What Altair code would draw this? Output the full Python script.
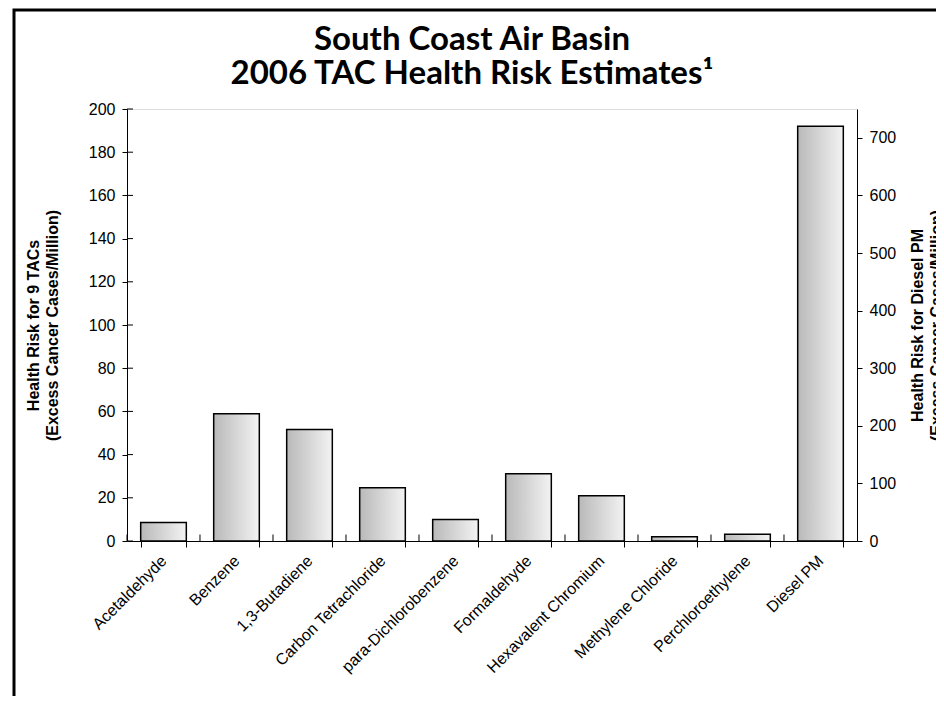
import altair as alt
import pandas as pd

# ---- data ----
tacs = ["Acetaldehyde", "Benzene", "1,3-Butadiene", "Carbon Tetrachloride",
        "para-Dichlorobenzene", "Formaldehyde", "Hexavalent Chromium",
        "Methylene Chloride", "Perchloroethylene"]
tac_risk = [8.6, 58.9, 51.6, 24.6, 10.0, 31.1, 20.9, 2.0, 3.1]
diesel = ["Diesel PM"]
diesel_risk = [720]
categories = tacs + diesel

left_ticks = [0, 20, 40, 60, 80, 100, 120, 140, 160, 180, 200]
right_ticks = [0, 100, 200, 300, 400, 500, 600, 700]
left_domain = [0, 200]
right_domain = [0, 750]

title_lines = ["South Coast Air Basin", "2006 TAC Health Risk Estimates\u00b9"]
left_title = ["Health Risk for 9 TACs", "(Excess Cancer Cases/Million)"]
right_title = ["Health Risk for Diesel PM", "(Excess Cancer Cases/Million)"]

tac_df = pd.DataFrame({"name": tacs, "risk": tac_risk})
dsl_df = pd.DataFrame({"name": diesel, "risk": diesel_risk})
tick_df = pd.DataFrame({"risk": left_ticks})
cat_df = pd.DataFrame({"name": categories})
one_df = pd.DataFrame({"k": [0]})

W, H = 730, 432
FONT = "Liberation Sans"

grad = alt.Gradient(
    gradient="linear",
    stops=[alt.GradientStop(color="#b9b9b9", offset=0),
           alt.GradientStop(color="#f3f3f3", offset=1)],
    x1=0, x2=1, y1=0, y2=0,
)

x_enc = alt.X(
    "name:N", sort=categories,
    scale=alt.Scale(paddingInner=0.375, paddingOuter=0.1875),
    axis=alt.Axis(title=None, labelAngle=315, labelAlign="right",
                  labelBaseline="middle", labelFont=FONT, labelFontSize=16,
                  labelColor="black", labelPadding=11, tickBand="extent",
                  tickSize=6, tickColor="black", domainColor="black"),
)

left_axis = alt.Axis(
    values=left_ticks, title=left_title, titleFont=FONT, titleFontSize=16,
    titleFontWeight="bold", titleColor="black", titleLineHeight=19,
    titleAngle=270, titleBaseline="top", titleAlign="center",
    titleX=-102, titleY=H / 2,
    labelFont=FONT, labelFontSize=16, labelColor="black", labelPadding=7,
    tickSize=5, tickColor="black", domainColor="black", grid=False,
)
y_left = alt.Y("risk:Q", scale=alt.Scale(domain=left_domain), axis=left_axis)

bars_left = alt.Chart(tac_df).mark_bar(
    fill=grad, stroke="black", strokeWidth=1.5
).encode(x=x_enc, y=y_left)

inner_y_ticks = alt.Chart(tick_df).mark_rule(color="black", strokeWidth=1).encode(
    y=y_left, x=alt.value(0), x2=alt.value(6)
)

inner_x_ticks = alt.Chart(cat_df).mark_rule(
    color="black", strokeWidth=1, xOffset=-13.69
).encode(
    x=alt.X("name:N", sort=categories, bandPosition=0),
    y=alt.datum(0), y2=alt.datum(3.0),
)

left_layer = alt.layer(bars_left, inner_y_ticks, inner_x_ticks)

right_axis = alt.Axis(
    values=right_ticks, orient="right", title=right_title, titleFont=FONT,
    titleFontSize=16, titleFontWeight="bold", titleColor="black",
    titleLineHeight=19, titleAngle=270, titleBaseline="top",
    titleAlign="center", titleX=52, titleY=H / 2,
    labelFont=FONT, labelFontSize=16, labelColor="black", labelPadding=7,
    tickSize=5, tickColor="black", domainColor="black", grid=False,
)

bars_right = alt.Chart(dsl_df).mark_bar(
    fill=grad, stroke="black", strokeWidth=1.5
).encode(
    x=x_enc,
    y=alt.Y("risk:Q", scale=alt.Scale(domain=right_domain), axis=right_axis),
)

frame = alt.Chart(one_df).mark_rect(
    fillOpacity=0, stroke="black", strokeWidth=3
).encode(
    x=alt.value(-113), x2=alt.value(1100), y=alt.value(-99), y2=alt.value(1100)
)

chart = alt.layer(left_layer, bars_right, frame).resolve_scale(
    y="independent"
).properties(
    width=W, height=H,
    autosize=alt.AutoSizeParams(type="none"),
    padding={"left": 119, "top": 101, "right": 79, "bottom": 155},
    title=alt.TitleParams(
        text=title_lines, font="Lato", fontSize=33, fontWeight="bold",
        color="black", anchor="middle", frame="group", dx=-20,
        offset=0, baseline="alphabetic", lineHeight=34, dy=108,
    ),
).configure_view(
    stroke="#a0a0a0", strokeWidth=1
).configure(background="white")

chart.save("out.html", embed_options={"renderer": "svg", "actions": False})
